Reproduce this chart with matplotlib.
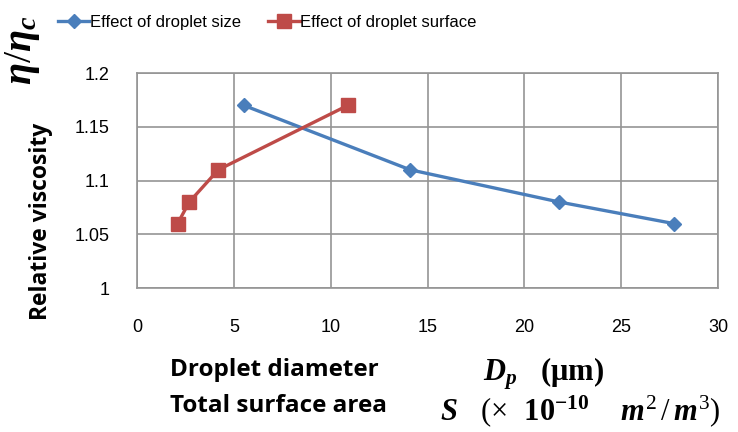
import matplotlib.pyplot as plt

size_x = [5.5, 14.1, 21.8, 27.7]
size_y = [1.17, 1.11, 1.08, 1.06]
surf_x = [2.1, 2.7, 4.2, 10.9]
surf_y = [1.06, 1.08, 1.11, 1.17]

xticks = [0, 5, 10, 15, 20, 25, 30]
yticks = [1, 1.05, 1.1, 1.15, 1.2]
ytick_labels = ['1', '1.05', '1.1', '1.15', '1.2']

plt.rcParams['font.family'] = ['Liberation Sans', 'DejaVu Sans']
plt.rcParams['mathtext.fontset'] = 'custom'
plt.rcParams['mathtext.it'] = 'Liberation Serif:italic:bold'
plt.rcParams['mathtext.rm'] = 'Liberation Serif'
plt.rcParams['mathtext.bf'] = 'Liberation Serif:bold'

fig = plt.figure(figsize=(7.38, 4.32), dpi=100)
ax = fig.add_axes([0.1856, 0.3333, 0.7874, 0.4977])

blue = '#4A7EBB'
red = '#BE4B48'
ax.plot(size_x, size_y, color=blue, lw=2.4, marker='D', ms=7, label='Effect of droplet size', zorder=3)
ax.plot(surf_x, surf_y, color=red, lw=2.4, marker='s', ms=10, label='Effect of droplet surface', zorder=3)

ax.set_xlim(0, 30)
ax.set_ylim(1, 1.2)
ax.set_xticks(xticks)
ax.set_yticks(yticks)
ax.set_yticklabels(ytick_labels)
ax.tick_params(length=0, labelsize=13)
ax.tick_params(axis='x', pad=22)
ax.tick_params(axis='y', pad=20)
ax.grid(True, color='#959595', lw=1.2)
for s in ax.spines.values():
    s.set_color('#959595')
    s.set_linewidth(1.2)

ax.set_ylabel('Relative viscosity', fontsize=16.5, fontweight='bold', family='Open Sans')
ax.yaxis.set_label_coords(-0.145, 0.31)

fig.text(0.031, 0.884, r'$\eta/\eta_c$', rotation=90, fontsize=29, va='center', ha='center')

fig.legend(loc='upper left', bbox_to_anchor=(0.058, 1.0), ncol=2, frameon=False,
           fontsize=12, handlelength=1.9, columnspacing=1.6, handletextpad=0.05)

fig.text(0.231, 0.143, 'Droplet diameter', fontsize=17.5, fontweight='bold', family='Open Sans', va='center')
fig.text(0.231, 0.06, 'Total surface area', fontsize=17.5, fontweight='bold', family='Open Sans', va='center')
fig.text(0.654, 0.12, r'$D_p\ \ \ \mathbf{(\mu m)}$', fontsize=22, va='baseline')
fig.text(0.596, 0.028, r'$S\ \ \ (\times\ \ \mathbf{10^{-10}}\ \ \ \ m^2\,/\,m^3)$', fontsize=22, va='baseline')

fig.savefig('out.png', dpi=100)
